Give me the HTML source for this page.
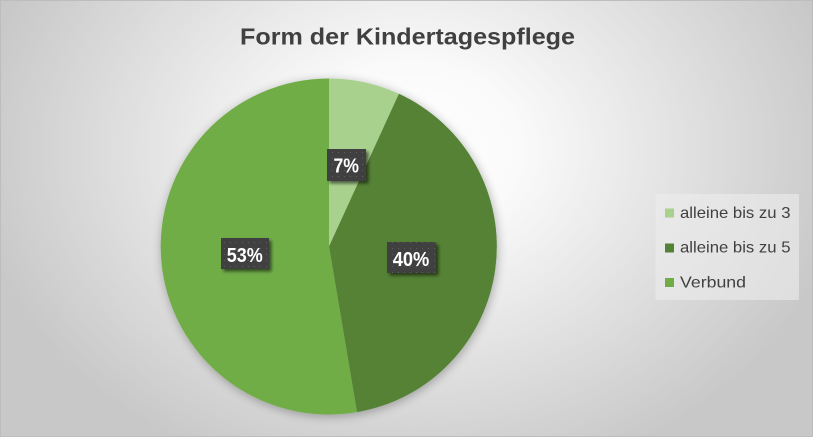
<!DOCTYPE html>
<html><head><meta charset="utf-8"><style>
html,body{margin:0;padding:0;background:#fff;}
svg{display:block;}
</style></head><body>
<svg width="814" height="439" viewBox="0 0 814 439" xmlns="http://www.w3.org/2000/svg">
<defs>
<radialGradient id="bg" gradientUnits="userSpaceOnUse" cx="410" cy="150" r="440" gradientTransform="translate(410 150) scale(1 0.78) translate(-410 -150)">
<stop offset="0" stop-color="#ffffff"/>
<stop offset="0.25" stop-color="#fafafa"/>
<stop offset="1" stop-color="#c8c8c8"/>
</radialGradient>
<pattern id="dots" width="6" height="6" patternUnits="userSpaceOnUse">
<rect width="6" height="6" fill="#404040"/>
<rect x="2" y="2" width="1" height="1" fill="#5e5e5e"/>
</pattern>
<filter id="pieSh" x="-20%" y="-20%" width="140%" height="140%">
<feGaussianBlur in="SourceAlpha" stdDeviation="5"/>
<feOffset dx="1" dy="2" result="b"/>
<feComponentTransfer><feFuncA type="linear" slope="0.3"/></feComponentTransfer>
<feMerge><feMergeNode/><feMergeNode in="SourceGraphic"/></feMerge>
</filter>
<filter id="lblSh" x="-30%" y="-30%" width="160%" height="160%">
<feGaussianBlur in="SourceAlpha" stdDeviation="1.5"/>
<feOffset dx="2.5" dy="2.5"/>
<feComponentTransfer><feFuncA type="linear" slope="0.55"/></feComponentTransfer>
<feMerge><feMergeNode/><feMergeNode in="SourceGraphic"/></feMerge>
</filter>
</defs>
<rect x="0" y="0" width="813" height="437" fill="url(#bg)"/>
<rect x="0.5" y="0.5" width="812" height="436" fill="none" stroke="#bdbdbd" stroke-width="1"/>

<text x="240" y="44.5" textLength="335" lengthAdjust="spacingAndGlyphs" font-family="Liberation Sans, Arial, sans-serif" font-weight="bold" font-size="23" fill="#404040">Form der Kindertagespflege</text>

<g filter="url(#pieSh)">
<path d="M329,246.5 L329,78.5 A168,168 0 0 1 398.9,93.8 Z" fill="#a9d18e"/>
<path d="M329,246.5 L398.9,93.8 A168,168 0 0 1 357,412.1 Z" fill="#548235"/>
<path d="M329,246.5 L357,412.1 A168,168 0 1 1 329,78.5 Z" fill="#70ad47"/>
</g>

<g filter="url(#lblSh)">
<rect x="327" y="149" width="39" height="32" fill="url(#dots)"/>
<rect x="221" y="238" width="48" height="31" fill="url(#dots)"/>
<rect x="387" y="242" width="49" height="31" fill="url(#dots)"/>
</g>
<g font-family="Liberation Sans, Arial, sans-serif" font-weight="bold" font-size="20" fill="#ffffff">
<text x="333.5" y="172.5" textLength="25.5" lengthAdjust="spacingAndGlyphs">7%</text>
<text x="226.7" y="262" textLength="36" lengthAdjust="spacingAndGlyphs">53%</text>
<text x="392.7" y="266" textLength="36.6" lengthAdjust="spacingAndGlyphs">40%</text>
</g>

<rect x="655.5" y="194" width="143.5" height="106" fill="#ececec" fill-opacity="0.6"/>
<rect x="665" y="208.5" width="9" height="9" fill="#a9d18e"/>
<rect x="665" y="243.5" width="9" height="9" fill="#548235"/>
<rect x="665" y="278" width="9" height="9" fill="#70ad47"/>
<g font-family="Liberation Sans, Arial, sans-serif" font-size="16" fill="#404040">
<text x="680" y="218" textLength="110.5" lengthAdjust="spacingAndGlyphs">alleine bis zu 3</text>
<text x="680" y="252.7" textLength="110.5" lengthAdjust="spacingAndGlyphs">alleine bis zu 5</text>
<text x="680" y="287.3" textLength="66" lengthAdjust="spacingAndGlyphs">Verbund</text>
</g>
</svg>
</body></html>
